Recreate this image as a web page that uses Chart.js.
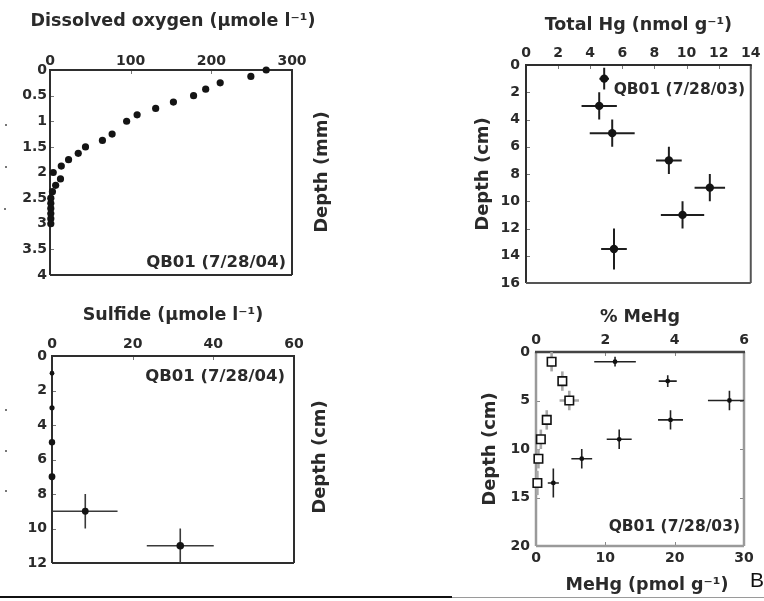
<!DOCTYPE html>
<html><head><meta charset="utf-8">
<script src="https://cdn.jsdelivr.net/npm/chart.js@4.4.1/dist/chart.umd.min.js"></script>
<style>
html,body{margin:0;padding:0;background:#fff;}
#wrap{position:relative;width:764px;height:601px;overflow:hidden;background:#fff;}
#wrap canvas{position:absolute;left:0;top:0;}
.rule{position:absolute;}
.spk{position:absolute;width:2px;height:2px;background:#777;}
#be{position:absolute;left:750px;top:568px;font:21px "Liberation Sans",Arial,sans-serif;color:#111;white-space:nowrap;}
</style></head><body>
<div id="wrap">
<canvas id="c1" width="764" height="601"></canvas>
<canvas id="c2" width="764" height="601"></canvas>
<canvas id="c3" width="764" height="601"></canvas>
<canvas id="c4" width="764" height="601"></canvas>
<div class="rule" style="left:0;top:596px;width:452px;height:2px;background:#111"></div>
<div class="rule" style="left:452px;top:597px;width:312px;height:1px;background:#9a9a9a"></div>
<div class="spk" style="left:5px;top:124px"></div>
<div class="spk" style="left:5px;top:166px"></div>
<div class="spk" style="left:4px;top:208px"></div>
<div class="spk" style="left:5px;top:409px"></div>
<div class="spk" style="left:5px;top:450px"></div>
<div class="spk" style="left:5px;top:490px"></div>
<div id="be">Be</div>
</div>
<script>
// ---------- data ----------
// Panel: dissolved oxygen profile (depth in mm, µmole/l)
const oxyDepth = [0,0.125,0.25,0.375,0.5,0.625,0.75,0.875,1,1.25,1.375,1.5,1.625,1.75,1.875,2,2.125,2.25,2.375,2.5,2.6,2.7,2.8,2.9,3.0];
const oxyValue = [268,249,211,193,178,153,131,108,95,77,65,44,35,23,14,4,13,7,3,1,1,1,1,1,1];
const oxyTicksX = [0,100,200,300];
const oxyTicksY = [0,0.5,1,1.5,2,2.5,3,3.5,4];

// Panel: total Hg (depth cm, nmol/g)
const hgDepth = [1,3,5,7,9,11,13.5];
const hgValue = [4.87,4.56,5.37,8.9,11.45,9.75,5.48];
const hgErrX  = [0.3,1.1,1.4,0.8,0.95,1.35,0.8];
const hgErrY  = [0.8,1,1,1,1,1,1.5];
const hgTicksX = [0,2,4,6,8,10,12,14];
const hgTicksY = [0,2,4,6,8,10,12,14,16];

// Panel: sulfide (depth cm, µmole/l)
const sulDepth = [1,3,5,7,9,11];
const sulValue = [0,0,0,0,8.25,31.8];
const sulErrX  = [0,0,0,0,8,8.3];
const sulErrY  = [0,0,0,0,1,1];
const sulTicksX = [0,20,40,60];
const sulTicksY = [0,2,4,6,8,10,12];

// Panel: MeHg (pmol/g, bottom axis) and % MeHg (top axis)
const mehgDepth = [1,3,5,7,9,11,13.5];
const mehgValue = [11.4,19.0,27.9,19.4,12.0,6.6,2.5];
const mehgErrX  = [3,1.3,3.1,1.8,1.8,1.5,0.8];
const mehgErrY  = [0.5,0.6,1,1,1,1,1.5];
const pctDepth = [1,3,5,7,9,11,13.5];
const pctValue = [0.45,0.76,0.96,0.31,0.14,0.07,0.04];
const pctErrX  = [0,0,0.28,0,0,0,0];
const pctErrY  = [1,1,1,1,1,1,1.25];
const mehgTicksX = [0,10,20,30];
const pctTicksX = [0,2,4,6];
const mehgTicksY = [0,5,10,15,20];

// ---------- styling helpers ----------
const FAM = "'DejaVu Sans', 'Liberation Sans', sans-serif";
const TXT = '#2a2a2a';
const TICK_FONT = {family: FAM, size: 14, weight: 'bold', lineHeight: 1.2};
const TITLE_FONT = {family: FAM, size: 17.5, weight: 'bold', lineHeight: 1.2};
const SIDE_FONT = {family: FAM, size: 18, weight: 'bold', lineHeight: 1.2};

function hAxis(position, min, max, tickVals, size, title, pad) {
  return {
    type: 'linear', position, min, max,
    grid: {display: false, drawTicks: false}, border: {display: false},
    ticks: {font: TICK_FONT, color: TXT, padding: pad, autoSkip: false, maxRotation: 0, callback: v => String(v)},
    afterBuildTicks: s => { s.ticks = tickVals.map(v => ({value: v})); },
    afterFit: s => { s.height = size; },
    title: title ? {display: true, text: title, font: TITLE_FONT, color: TXT, padding: {top: 0, bottom: 0}} : {display: false}
  };
}
function vAxis(min, max, tickVals, size, title, pad) {
  return {
    type: 'linear', position: 'left', min, max, reverse: true,
    grid: {display: false, drawTicks: false}, border: {display: false},
    ticks: {font: TICK_FONT, color: TXT, padding: pad, autoSkip: false, callback: v => String(v)},
    afterBuildTicks: s => { s.ticks = tickVals.map(v => ({value: v})); },
    afterFit: s => { s.width = size; },
    title: title ? {display: true, text: title, font: SIDE_FONT, color: TXT, padding: {top: 0, bottom: 0}} : {display: false}
  };
}

const panelPlugin = {
  id: 'panel',
  beforeDatasetsDraw(chart, args, o) {
    const ctx = chart.ctx, a = chart.chartArea;
    ctx.save();
    // free texts (headings wider than the plot, in-panel notes)
    (o.notes || []).forEach(n => {
      ctx.font = `bold ${n.size}px ${FAM}`;
      ctx.fillStyle = TXT; ctx.textAlign = n.align || 'right'; ctx.textBaseline = 'middle';
      ctx.fillText(n.text, n.x, n.y);
    });
    if (o.side) {
      ctx.save();
      ctx.translate(o.side.x, o.side.y); ctx.rotate(-Math.PI / 2);
      ctx.font = `bold ${SIDE_FONT.size}px ${FAM}`;
      ctx.fillStyle = TXT; ctx.textAlign = 'center'; ctx.textBaseline = 'middle';
      ctx.fillText(o.side.text, 0, 0);
      ctx.restore();
    }
    // inward tick marks
    ctx.strokeStyle = o.tickColor || '#777'; ctx.lineWidth = 1;
    (o.tickSides || []).forEach(t => {
      const s = chart.scales[t.scale];
      s.ticks.forEach(tk => {
        const p = Math.round(s.getPixelForValue(tk.value)) + 0.5;
        ctx.beginPath();
        if (t.side === 'top') { ctx.moveTo(p, a.top); ctx.lineTo(p, a.top + 4); }
        if (t.side === 'bottom') { ctx.moveTo(p, a.bottom); ctx.lineTo(p, a.bottom - 4); }
        if (t.side === 'left') { ctx.moveTo(a.left, p); ctx.lineTo(a.left + 4, p); }
        if (t.side === 'right') { ctx.moveTo(a.right, p); ctx.lineTo(a.right - 4, p); }
        ctx.stroke();
      });
    });
    // box
    const sd = o.sides;
    ctx.lineWidth = o.boxWidth || 2;
    const seg = (c, x1, y1, x2, y2) => { ctx.strokeStyle = c; ctx.beginPath(); ctx.moveTo(x1, y1); ctx.lineTo(x2, y2); ctx.stroke(); };
    seg(sd.left, a.left, a.top, a.left, a.bottom);
    seg(sd.right, a.right, a.top, a.right, a.bottom);
    seg(sd.bottom, a.left, a.bottom, a.right, a.bottom);
    seg(sd.top, a.left - 1, a.top, a.right + 1, a.top);
    // error bars
    ctx.beginPath(); ctx.rect(a.left, a.top, a.right - a.left, a.bottom - a.top); ctx.clip();
    chart.data.datasets.forEach(ds => {
      if (!ds.errX && !ds.errY) return;
      const xs = chart.scales[ds.xAxisID || 'x'], ys = chart.scales[ds.yAxisID || 'y'];
      ctx.strokeStyle = ds.errColor; ctx.lineWidth = ds.errWidth;
      ds.data.forEach((pt, j) => {
        const ex = ds.errX ? ds.errX[j] : 0, ey = ds.errY ? ds.errY[j] : 0;
        const px = xs.getPixelForValue(pt.x), py = ys.getPixelForValue(pt.y);
        ctx.beginPath();
        if (ex) { ctx.moveTo(xs.getPixelForValue(pt.x - ex), py); ctx.lineTo(xs.getPixelForValue(pt.x + ex), py); }
        if (ey) { ctx.moveTo(px, ys.getPixelForValue(pt.y - ey)); ctx.lineTo(px, ys.getPixelForValue(pt.y + ey)); }
        ctx.stroke();
      });
    });
    ctx.restore();
  }
};

function base(padding, scales, panel) {
  return {
    responsive: false, animation: false, devicePixelRatio: 1,
    layout: {padding},
    scales,
    plugins: {legend: {display: false}, tooltip: {enabled: false}, panel}
  };
}
const pts = (xs, ys) => xs.map((v, i) => ({x: v, y: ys[i]}));
const DARK = '#2e2e2e';

// ---------- Dissolved oxygen ----------
new Chart(document.getElementById('c1'), {
  type: 'scatter',
  data: {datasets: [{data: pts(oxyValue, oxyDepth), pointRadius: 3.6, backgroundColor: '#141414', borderWidth: 0, clip: false}]},
  options: base({left: 10, top: 10, right: 472, bottom: 326}, {
    x: hAxis('top', 0, 300, oxyTicksX, 60, null, 0),
    y: vAxis(0, 4, oxyTicksY, 40, null, 3)
  }, {
    sides: {left: DARK, right: DARK, top: DARK, bottom: DARK},
    tickSides: [{scale: 'x', side: 'top'}, {scale: 'y', side: 'left'}],
    notes: [
      {text: 'Dissolved oxygen (μmole l⁻¹)', x: 173, y: 21, size: 17.5, align: 'center'},
      {text: 'QB01 (7/28/04)', x: 286, y: 263, size: 16.5}
    ],
    side: {text: 'Depth (mm)', x: 322, y: 172}
  }),
  plugins: [panelPlugin]
});

// ---------- Total Hg ----------
new Chart(document.getElementById('c2'), {
  type: 'scatter',
  data: {datasets: [{data: pts(hgValue, hgDepth), errX: hgErrX, errY: hgErrY, errColor: '#1e1e1e', errWidth: 2,
    pointRadius: 4.2, backgroundColor: '#141414', borderWidth: 0, clip: false}]},
  options: base({left: 473, top: 15, right: 13, bottom: 318}, {
    x: hAxis('top', 0, 14, hgTicksX, 50, 'Total Hg (nmol g⁻¹)', 3.5),
    y: vAxis(0, 16, hgTicksY, 53, 'Depth (cm)', 6)
  }, {
    sides: {left: DARK, right: '#555', top: DARK, bottom: '#555'},
    tickSides: [{scale: 'x', side: 'top'}, {scale: 'y', side: 'left'}],
    notes: [{text: 'QB01 (7/28/03)', x: 745, y: 90, size: 15.5}]
  }),
  plugins: [panelPlugin]
});

// ---------- Sulfide ----------
new Chart(document.getElementById('c3'), {
  type: 'scatter',
  data: {datasets: [{data: pts(sulValue, sulDepth), errX: sulErrX, errY: sulErrY, errColor: '#3a3a3a', errWidth: 1.6,
    pointRadius: [2.4, 2.6, 3.2, 3.4, 3.4, 3.8], backgroundColor: '#141414', borderWidth: 0, clip: false}]},
  options: base({left: 12, top: 305, right: 470, bottom: 38}, {
    x: hAxis('top', 0, 60, sulTicksX, 51, 'Sulfide (μmole l⁻¹)', 3.5),
    y: vAxis(0, 12, sulTicksY, 40, null, 5)
  }, {
    sides: {left: DARK, right: DARK, top: DARK, bottom: DARK},
    tickSides: [{scale: 'x', side: 'top'}, {scale: 'y', side: 'left'}],
    notes: [{text: 'QB01 (7/28/04)', x: 285, y: 377, size: 16.5}],
    side: {text: 'Depth (cm)', x: 320, y: 457}
  }),
  plugins: [panelPlugin]
});

// ---------- MeHg / % MeHg ----------
new Chart(document.getElementById('c4'), {
  type: 'scatter',
  data: {datasets: [
    {data: pts(pctValue, pctDepth), xAxisID: 'x2', errX: pctErrX, errY: pctErrY, errColor: '#a8a8a8', errWidth: 2.6,
      pointStyle: 'rect', pointRadius: 6, backgroundColor: '#ffffff', borderColor: '#111', borderWidth: 1.6, clip: false},
    {data: pts(mehgValue, mehgDepth), xAxisID: 'x', errX: mehgErrX, errY: mehgErrY, errColor: '#222', errWidth: 1.6,
      pointRadius: 2.4, backgroundColor: '#111', borderWidth: 0, clip: false}
  ]},
  options: base({left: 480, top: 307, right: 20, bottom: 5}, {
    x: hAxis('bottom', 0, 30, mehgTicksX, 50, null, 3.5),
    x2: hAxis('top', 0, 6, pctTicksX, 45, '% MeHg', 3.5),
    y: vAxis(0, 20, mehgTicksY, 56, 'Depth (cm)', 6)
  }, {
    sides: {left: '#9a9a9a', right: '#9a9a9a', top: '#444', bottom: '#9a9a9a'},
    boxWidth: 2.5,
    tickColor: '#888',
    tickSides: [{scale: 'x2', side: 'top'}, {scale: 'x', side: 'bottom'}, {scale: 'y', side: 'left'}, {scale: 'y', side: 'right'}],
    notes: [
      {text: 'MeHg (pmol g⁻¹)', x: 647, y: 585, size: 17.5, align: 'center'},
      {text: 'QB01 (7/28/03)', x: 740, y: 527, size: 15.5}
    ]
  }),
  plugins: [panelPlugin]
});
</script>
</body></html>
